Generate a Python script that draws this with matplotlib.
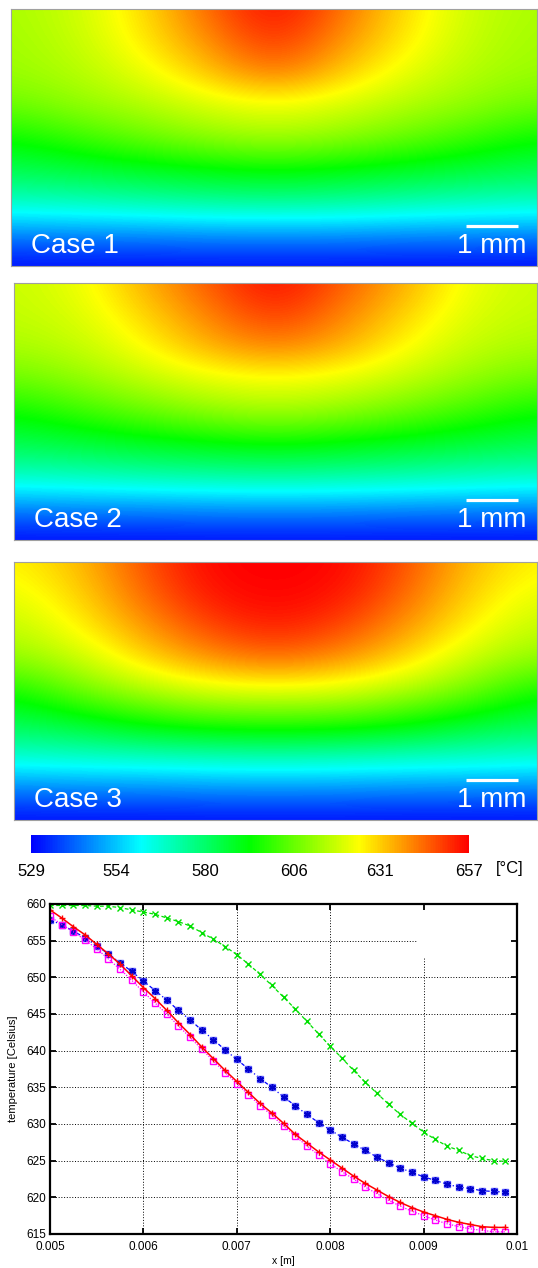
import matplotlib
matplotlib.use("Agg")
import matplotlib.pyplot as plt
from matplotlib.colors import LinearSegmentedColormap, Normalize
from matplotlib.cm import ScalarMappable

plt.rcParams['font.family'] = ['Liberation Sans', 'DejaVu Sans']

# temperature fields [C] read on a 9x9 grid over each panel, top row first
case1_field = [
    [614, 618, 629, 644, 657, 644, 629, 618, 614],
    [613, 617, 627, 639, 652, 639, 627, 617, 613],
    [612, 615, 622, 632, 643, 632, 622, 615, 612],
    [606, 611, 615, 620, 623, 620, 615, 611, 606],
    [594, 600, 606, 611, 614, 611, 606, 600, 594],
    [583, 586, 589, 592, 594, 592, 589, 586, 583],
    [569, 570, 572, 574, 575, 574, 572, 570, 569],
    [546, 547, 547, 548, 548, 548, 547, 547, 546],
    [530, 530, 530, 530, 530, 530, 530, 530, 530],
]
case2_field = [
    [618, 622, 635, 646, 657, 646, 635, 622, 618],
    [617, 620, 630, 641, 651, 641, 630, 620, 617],
    [614, 617, 625, 635, 641, 635, 625, 617, 614],
    [606, 611, 617, 622, 624, 622, 617, 611, 606],
    [594, 600, 606, 611, 614, 611, 606, 600, 594],
    [583, 586, 589, 592, 594, 592, 589, 586, 583],
    [569, 570, 572, 573, 574, 573, 572, 570, 569],
    [546, 547, 547, 548, 548, 548, 547, 547, 546],
    [530, 530, 530, 530, 530, 530, 530, 530, 530],
]
case3_field = [
    [626, 633, 647, 657, 657, 657, 647, 633, 626],
    [622, 630, 644, 655, 657, 655, 644, 630, 622],
    [617, 626, 638, 649, 654, 649, 638, 626, 617],
    [611, 618, 630, 639, 644, 639, 630, 618, 611],
    [595, 607, 615, 621, 622, 621, 615, 607, 595],
    [583, 588, 595, 599, 600, 599, 595, 588, 583],
    [568, 569, 570, 571, 572, 571, 570, 569, 568],
    [546, 547, 547, 548, 548, 548, 547, 547, 546],
    [530, 530, 530, 530, 530, 530, 530, 530, 530],
]
case_fields = [case1_field, case2_field, case3_field]
case_labels = ["Case 1", "Case 2", "Case 3"]

t_min, t_max = 529, 657
cbar_ticks = [529, 554, 580, 606, 631, 657]

# temperature profiles along x
x_m = [0.005, 0.005125, 0.00525, 0.005375, 0.0055, 0.005625, 0.00575, 0.005875,
       0.006, 0.006125, 0.00625, 0.006375, 0.0065, 0.006625, 0.00675, 0.006875,
       0.007, 0.007125, 0.00725, 0.007375, 0.0075, 0.007625, 0.00775, 0.007875,
       0.008, 0.008125, 0.00825, 0.008375, 0.0085, 0.008625, 0.00875, 0.008875,
       0.009, 0.009125, 0.00925, 0.009375, 0.0095, 0.009625, 0.00975, 0.009875]
green_t = [659.8, 659.8, 659.8, 659.8, 659.7, 659.7, 659.5, 659.2, 658.9, 658.6,
           658.1, 657.6, 657.0, 656.1, 655.2, 654.2, 653.1, 651.8, 650.4, 648.9,
           647.3, 645.7, 644.0, 642.3, 640.6, 639.0, 637.3, 635.7, 634.2, 632.7,
           631.3, 630.1, 628.9, 627.9, 627.0, 626.4, 625.7, 625.3, 625.0, 624.9]
blue_t = [657.8, 657.2, 656.3, 655.4, 654.3, 653.2, 652.0, 650.8, 649.5, 648.2,
          646.9, 645.5, 644.2, 642.8, 641.5, 640.1, 638.8, 637.5, 636.2, 635.0,
          633.7, 632.5, 631.3, 630.2, 629.2, 628.2, 627.3, 626.4, 625.5, 624.7,
          624.0, 623.4, 622.8, 622.3, 621.8, 621.4, 621.2, 620.9, 620.8, 620.7]
magenta_t = [658.3, 657.2, 656.2, 655.1, 653.9, 652.5, 651.1, 649.6, 648.0, 646.5,
             645.0, 643.4, 641.8, 640.2, 638.6, 637.0, 635.5, 634.0, 632.5, 631.2,
             629.7, 628.4, 627.0, 625.8, 624.6, 623.5, 622.5, 621.4, 620.5, 619.6,
             618.8, 618.1, 617.5, 616.9, 616.4, 616.0, 615.7, 615.5, 615.3, 615.3]
red_t = [659.2, 658.1, 656.9, 655.8, 654.5, 653.2, 651.8, 650.2, 648.6, 647.1,
         645.5, 643.8, 642.2, 640.5, 638.9, 637.3, 635.8, 634.3, 632.8, 631.5,
         630.1, 628.6, 627.4, 626.2, 625.1, 624.0, 622.9, 621.9, 621.0, 620.1,
         619.3, 618.6, 618.0, 617.5, 617.0, 616.6, 616.3, 616.0, 615.9, 615.9]

x_ticks = [0.005, 0.006, 0.007, 0.008, 0.009, 0.01]
x_tick_labels = ["0.005", "0.006", "0.007", "0.008", "0.009", "0.01"]
y_ticks = [615, 620, 625, 630, 635, 640, 645, 650, 655, 660]

W, H = 538, 1268
fig = plt.figure(figsize=(W / 100, H / 100), dpi=100)

def px_axes(x0, y0, x1, y1):
    return fig.add_axes([x0 / W, 1 - y1 / H, (x1 - x0) / W, (y1 - y0) / H])

cmap = LinearSegmentedColormap.from_list(
    "rainbow5", ["#0000ff", "#00ffff", "#00ff00", "#ffff00", "#ff0000"])
norm = Normalize(t_min, t_max)

panel_boxes = [(11, 9, 537, 266), (14, 283, 537, 540), (14, 562, 537, 820)]
half = 1 / 16
for field, label, box in zip(case_fields, case_labels, panel_boxes):
    ax = px_axes(*box)
    ax.imshow(field, cmap=cmap, norm=norm, interpolation='bicubic',
              interpolation_stage='data', aspect='auto',
              extent=(-half, 1 + half, 1 + half, -half))
    ax.set_xlim(0, 1)
    ax.set_ylim(1, 0)
    ax.set_xticks([])
    ax.set_yticks([])
    for s in ax.spines.values():
        s.set_color('#a0a0a0')
        s.set_linewidth(0.8)
    ax.text(0.038, 0.924, label, color='white', fontsize=20, va='center', ha='left')
    ax.text(0.98, 0.924, "1 mm", color='white', fontsize=20, va='center', ha='right')
    ax.plot([0.865, 0.964], [0.844, 0.844], color='white', lw=2.3, solid_capstyle='butt')

# colour bar
cax = px_axes(31, 835, 469, 853)
cb = fig.colorbar(ScalarMappable(norm=norm, cmap=cmap), cax=cax, orientation='horizontal')
cb.set_ticks(cbar_ticks)
cb.set_ticklabels([str(t) for t in cbar_ticks])
cb.outline.set_visible(False)
cax.tick_params(length=0, labelsize=12, pad=8)
fig.text(510 / W, 1 - 869 / H, "[°C]", fontsize=12, ha='center', va='center')

# line plot
ax = px_axes(50, 904, 517, 1234)
x_lo, x_hi = 0.005, 0.01
y_lo, y_hi = 615, 660
key_left, key_bottom = 0.00892, 652.6

for yv in y_ticks[1:-1]:
    x_end = key_left if yv > key_bottom else x_hi
    ax.plot([x_lo, x_end], [yv, yv], color='black', lw=0.7, ls=(0, (1, 1.8)), zorder=0.5)
for xv in x_ticks[1:-1]:
    y_end = key_bottom if xv > key_left else y_hi
    ax.plot([xv, xv], [y_lo, y_end], color='black', lw=0.7, ls=(0, (1, 1.8)), zorder=0.5)

ax.plot(x_m, green_t, color='#00e000', lw=0.9, ls=(0, (3, 2)), marker='x', ms=4.5, mew=1.0)
ax.plot(x_m, blue_t, color='#0000ff', lw=0.9, ls=(0, (3, 2, 1, 2)), marker='s', ms=4.5,
        mfc='#6060ff', mec='#6060ff')
ax.plot(x_m, blue_t, ls='none', marker=(6, 2, 0), ms=5, mew=1.1, color='#0000cc')
ax.plot(x_m, magenta_t, color='#ff00ff', lw=0.9, ls=(0, (1, 1.2)), marker='s', ms=5,
        mfc='none', mew=1.0)
ax.plot(x_m, red_t, color='#ff0000', lw=1.1, ls='-', marker='+', ms=5, mew=1.0)

ax.set_xlim(x_lo, x_hi)
ax.set_ylim(y_lo, y_hi)
ax.set_xticks(x_ticks)
ax.set_xticklabels(x_tick_labels)
ax.set_yticks(y_ticks)
ax.tick_params(direction='in', length=4, width=1.3, top=True, right=True, labelsize=8.5)
ax.tick_params(axis='x', pad=5)
ax.tick_params(axis='y', pad=3)
for s in ax.spines.values():
    s.set_linewidth(1.6)
ax.set_xlabel("x [m]", fontsize=7.5, labelpad=2)
ax.set_ylabel("temperature [Celsius]", fontsize=8, labelpad=6)

fig.savefig("out.png", dpi=100)
